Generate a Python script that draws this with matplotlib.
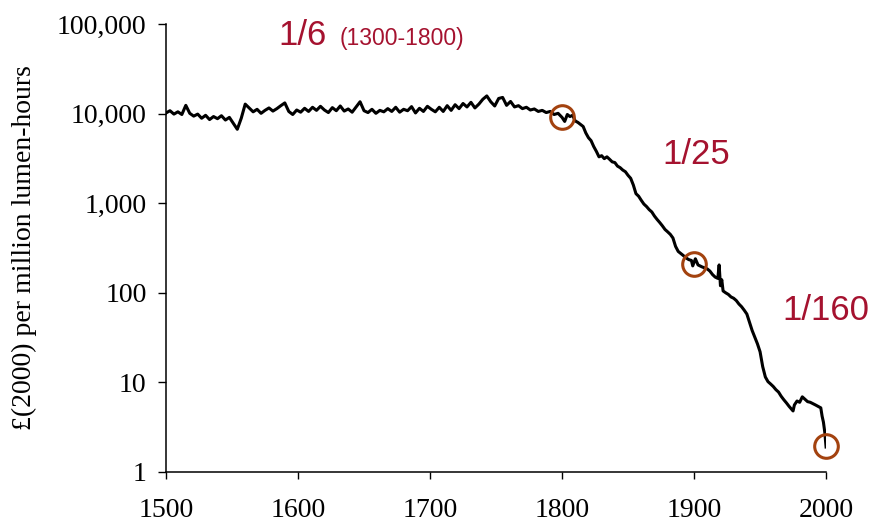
import numpy as np
import matplotlib.pyplot as plt
from matplotlib.ticker import FixedLocator, FuncFormatter

# price of light, £(2000) per million lumen-hours
flat_years = list(range(1500, 1800, 3))
flat_price = [10200, 10800, 9900, 10500, 9800, 12400, 10100, 9400, 9900, 8900,
              9600, 8600, 9300, 8800, 9500, 8500, 9100, 7800, 6700, 8900,
              12800, 11600, 10500, 11200, 10100, 10900, 11600, 10700, 11400, 12300,
              13200, 10600, 9800, 11000, 10400, 11500, 10600, 11800, 10900, 12100,
              11000, 10300, 11700, 10800, 12200, 10700, 11300, 10400, 11900, 13600,
              10800, 10300, 11200, 10100, 10900, 10500, 11400, 10600, 11800, 10400,
              11200, 10800, 12000, 10200, 11500, 10600, 12100, 11200, 10500, 11800,
              10600, 12300, 10900, 12600, 11400, 13000, 11900, 13400, 11600, 12800,
              14500, 15800, 13600, 12200, 14800, 15200, 12400, 13700, 11900, 12300,
              11400, 11800, 11000, 11300, 10600, 10900, 10300, 10600, 9800, 10100]

fall_years = [1800, 1802, 1804, 1806, 1808, 1810, 1812, 1814, 1816, 1818,
              1820, 1822, 1824, 1826, 1828, 1830, 1832, 1834, 1836, 1838,
              1840, 1842, 1844, 1846, 1848, 1850, 1852, 1854, 1856, 1858,
              1860, 1862, 1864, 1866, 1868, 1870, 1872, 1874, 1876, 1878,
              1880, 1882, 1884, 1886, 1888, 1890, 1892, 1894, 1896, 1898,
              1899, 1901, 1903, 1906, 1908, 1910, 1912, 1914, 1916, 1918,
              1919, 1920, 1921, 1922, 1924, 1926, 1928, 1930, 1932, 1934,
              1936, 1938, 1940, 1942, 1944, 1946, 1948, 1950, 1952, 1954,
              1956, 1958, 1960, 1962, 1964, 1966, 1968, 1970, 1972, 1974,
              1975, 1976, 1978, 1980, 1982, 1984, 1986, 1988, 1990, 1992,
              1994, 1996, 1997, 1998, 1999, 2000]
fall_price = [9100, 8200, 9800, 9300, 9600, 8300, 8000, 7600, 7200, 6100,
              5400, 5000, 4300, 3800, 3300, 3400, 3150, 3300, 3100, 2900,
              2850, 2600, 2500, 2350, 2250, 2050, 1900, 1600, 1280, 1200,
              1080, 980, 920, 850, 800, 720, 660, 610, 560, 510,
              480, 450, 410, 330, 290, 275, 260, 245, 235, 230,
              200, 240, 205, 195, 190, 185, 175, 160, 150, 145,
              205, 120, 140, 105, 100, 96, 90, 87, 82, 75,
              70, 64, 58, 47, 38, 32, 27, 22, 15, 11.5,
              10.2, 9.6, 9.0, 8.3, 7.8, 7.0, 6.4, 5.9, 5.4, 5.0,
              4.8, 5.6, 6.2, 6.0, 6.9, 6.5, 6.1, 6.0, 5.8, 5.6,
              5.4, 5.2, 4.2, 3.6, 2.8, 1.9]

circle_years = [1800, 1900, 2000]
circle_price = [9100, 210, 1.95]

ytick_vals = [1, 10, 100, 1000, 10000, 100000]
xtick_vals = [1500, 1600, 1700, 1800, 1900, 2000]

years = flat_years + fall_years
price = flat_price + fall_price

red = '#a5122f'
brown = '#a3420f'
serif = 'Liberation Serif'

fig = plt.figure(figsize=(8.76, 5.25), dpi=100)
ax = fig.add_axes([0.1895, 0.101, 0.7535, 0.853])

ax.plot(years, price, color='black', lw=2.2)
ax.plot(circle_years, circle_price, 'o', ms=17, mfc='none', mec=brown, mew=2.2,
        clip_on=False)

ax.set_yscale('log')
ax.set_xlim(1500, 2000)
ax.set_ylim(1, 100000)
ax.yaxis.set_major_locator(FixedLocator(ytick_vals))
ax.yaxis.set_minor_locator(FixedLocator([]))
ax.yaxis.set_major_formatter(FuncFormatter(lambda v, p: f'{int(round(v)):,}'))
ax.set_xticks(xtick_vals)

for s in ['top', 'right']:
    ax.spines[s].set_visible(False)
for s in ['left', 'bottom']:
    ax.spines[s].set_linewidth(1.1)

ax.tick_params(axis='y', direction='out', length=6, width=1, pad=8)
ax.tick_params(axis='x', direction='out', length=5, width=1, pad=14)
for lab in ax.get_xticklabels() + ax.get_yticklabels():
    lab.set_fontfamily(serif)
    lab.set_fontsize(20)

ax.set_ylabel('£(2000) per million lumen-hours', fontfamily=serif, fontsize=20,
              labelpad=14)

sans = 'Liberation Sans'
fig.text(278 / 876, 1 - 45 / 525, '1/6', color=red, fontsize=25, fontfamily=sans,
         va='baseline')
fig.text(340 / 876, 1 - 45 / 525, '(1300-1800)', color=red, fontsize=16.5,
         fontfamily=sans, va='baseline')
fig.text(662 / 876, 1 - 154 / 525, '1/25', color=red, fontsize=25, fontfamily=sans,
         va='center')
fig.text(782 / 876, 1 - 310 / 525, '1/160', color=red, fontsize=25, fontfamily=sans,
         va='center')

fig.savefig('out.png', dpi=100)
